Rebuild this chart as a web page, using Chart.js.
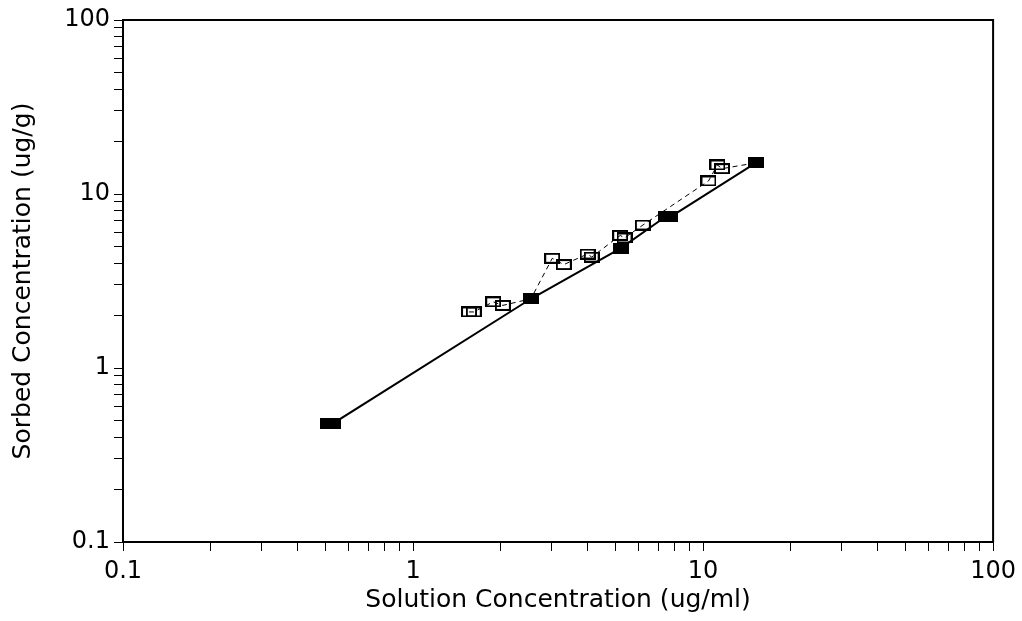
<!DOCTYPE html>
<html>
<head>
<meta charset="utf-8">
<title>Sorption isotherm</title>
<script src="https://cdn.jsdelivr.net/npm/chart.js@4.4.1/dist/chart.umd.min.js"></script>
<style>
  html, body { margin: 0; padding: 0; background: #fff; }
</style>
</head>
<body>
<canvas id="isotherm" width="1022" height="621"></canvas>
<script>
// filled squares, joined by the solid line
const solidX = [0.51, 0.53, 2.55, 5.21, 7.48, 7.72, 15.2];
const solidY = [0.48, 0.48, 2.50, 4.89, 7.47, 7.38, 15.1];

// open squares, joined by the dashed line
const openX = [1.56, 1.62, 1.89, 2.04, 2.55, 3.02, 3.31, 4.00, 4.13, 5.18, 5.36, 6.20, 10.44, 11.21, 11.62, 15.2];
const openY = [2.10, 2.10, 2.40, 2.29, 2.50, 4.27, 3.93, 4.52, 4.34, 5.78, 5.59, 6.63, 11.88, 14.68, 13.98, 15.1];

// log ticks: 1..9 in every decade, labels only on the decades
const decades = [0.1, 1, 10];
const tickValues = decades.flatMap(d => [1, 2, 3, 4, 5, 6, 7, 8, 9].map(m => +(m * d).toPrecision(3))).concat(100);
const labelValues = [0.1, 1, 10, 100];
const tickLabels = ['0.1', '1', '10', '100'];

const xTitle = 'Solution Concentration (ug/ml)';
const yTitle = 'Sorbed Concentration (ug/g)';

function rectMark(filled) {
    const c = document.createElement('canvas');
    c.width = 16;
    c.height = 11;
    const g = c.getContext('2d');
    if (filled) {
        g.fillStyle = '#000';
        g.fillRect(0, 0, 16, 11);
    } else {
        g.strokeStyle = '#000';
        g.lineWidth = 2;
        g.strokeRect(1, 1, 14, 9);
    }
    return c;
}

const toPoints = (xs, ys) => xs.map((x, i) => ({ x, y: ys[i] }));

// top and right edges of the plot box
const frame = {
    id: 'frame',
    afterDraw(chart) {
        const { ctx, chartArea: a } = chart;
        ctx.save();
        ctx.strokeStyle = '#000';
        ctx.lineWidth = 2;
        ctx.beginPath();
        ctx.moveTo(a.left, a.top);
        ctx.lineTo(a.right, a.top);
        ctx.lineTo(a.right, a.bottom);
        ctx.stroke();
        ctx.restore();
    }
};

const tickFont = { family: 'DejaVu Sans', size: 24 };
const titleFont = { family: 'DejaVu Sans', size: 25 };

function logAxis(title, fit, titlePad, tickPad) {
    return {
        type: 'logarithmic',
        min: 0.1,
        max: 100,
        afterBuildTicks: scale => { scale.ticks = tickValues.map(v => ({ value: v })); },
        afterFit: fit,
        border: { display: true, color: '#000', width: 2 },
        grid: { drawOnChartArea: false, drawTicks: true, tickLength: 9, color: '#000', lineWidth: 1 },
        ticks: {
            autoSkip: false,
            maxRotation: 0,
            color: '#000',
            font: tickFont,
            padding: tickPad,
            callback: v => {
                const i = labelValues.indexOf(+v);
                return i >= 0 ? tickLabels[i] : '';
            }
        },
        title: { display: true, text: title, color: '#000', font: titleFont, padding: titlePad }
    };
}

new Chart(document.getElementById('isotherm'), {
    type: 'scatter',
    data: {
        datasets: [
            {
                data: toPoints(solidX, solidY),
                showLine: true,
                borderColor: '#000',
                borderWidth: 2,
                pointStyle: rectMark(true),
                pointRadius: 8
            },
            {
                data: toPoints(openX, openY),
                showLine: true,
                borderColor: '#000',
                borderWidth: 1,
                borderDash: [5, 4],
                pointStyle: rectMark(false),
                pointRadius: 8
            }
        ]
    },
    options: {
        responsive: false,
        animation: false,
        devicePixelRatio: 1,
        layout: { padding: { top: 20, right: 28, left: 0, bottom: 0 } },
        plugins: { legend: { display: false }, tooltip: { enabled: false } },
        scales: {
            x: logAxis(xTitle, s => { s.height = 79; }, { top: 0, bottom: 6 }, 6),
            y: logAxis(yTitle, s => { s.width = 123; }, { top: 8, bottom: 0 }, 4)
        }
    },
    plugins: [frame]
});
</script>
</body>
</html>
